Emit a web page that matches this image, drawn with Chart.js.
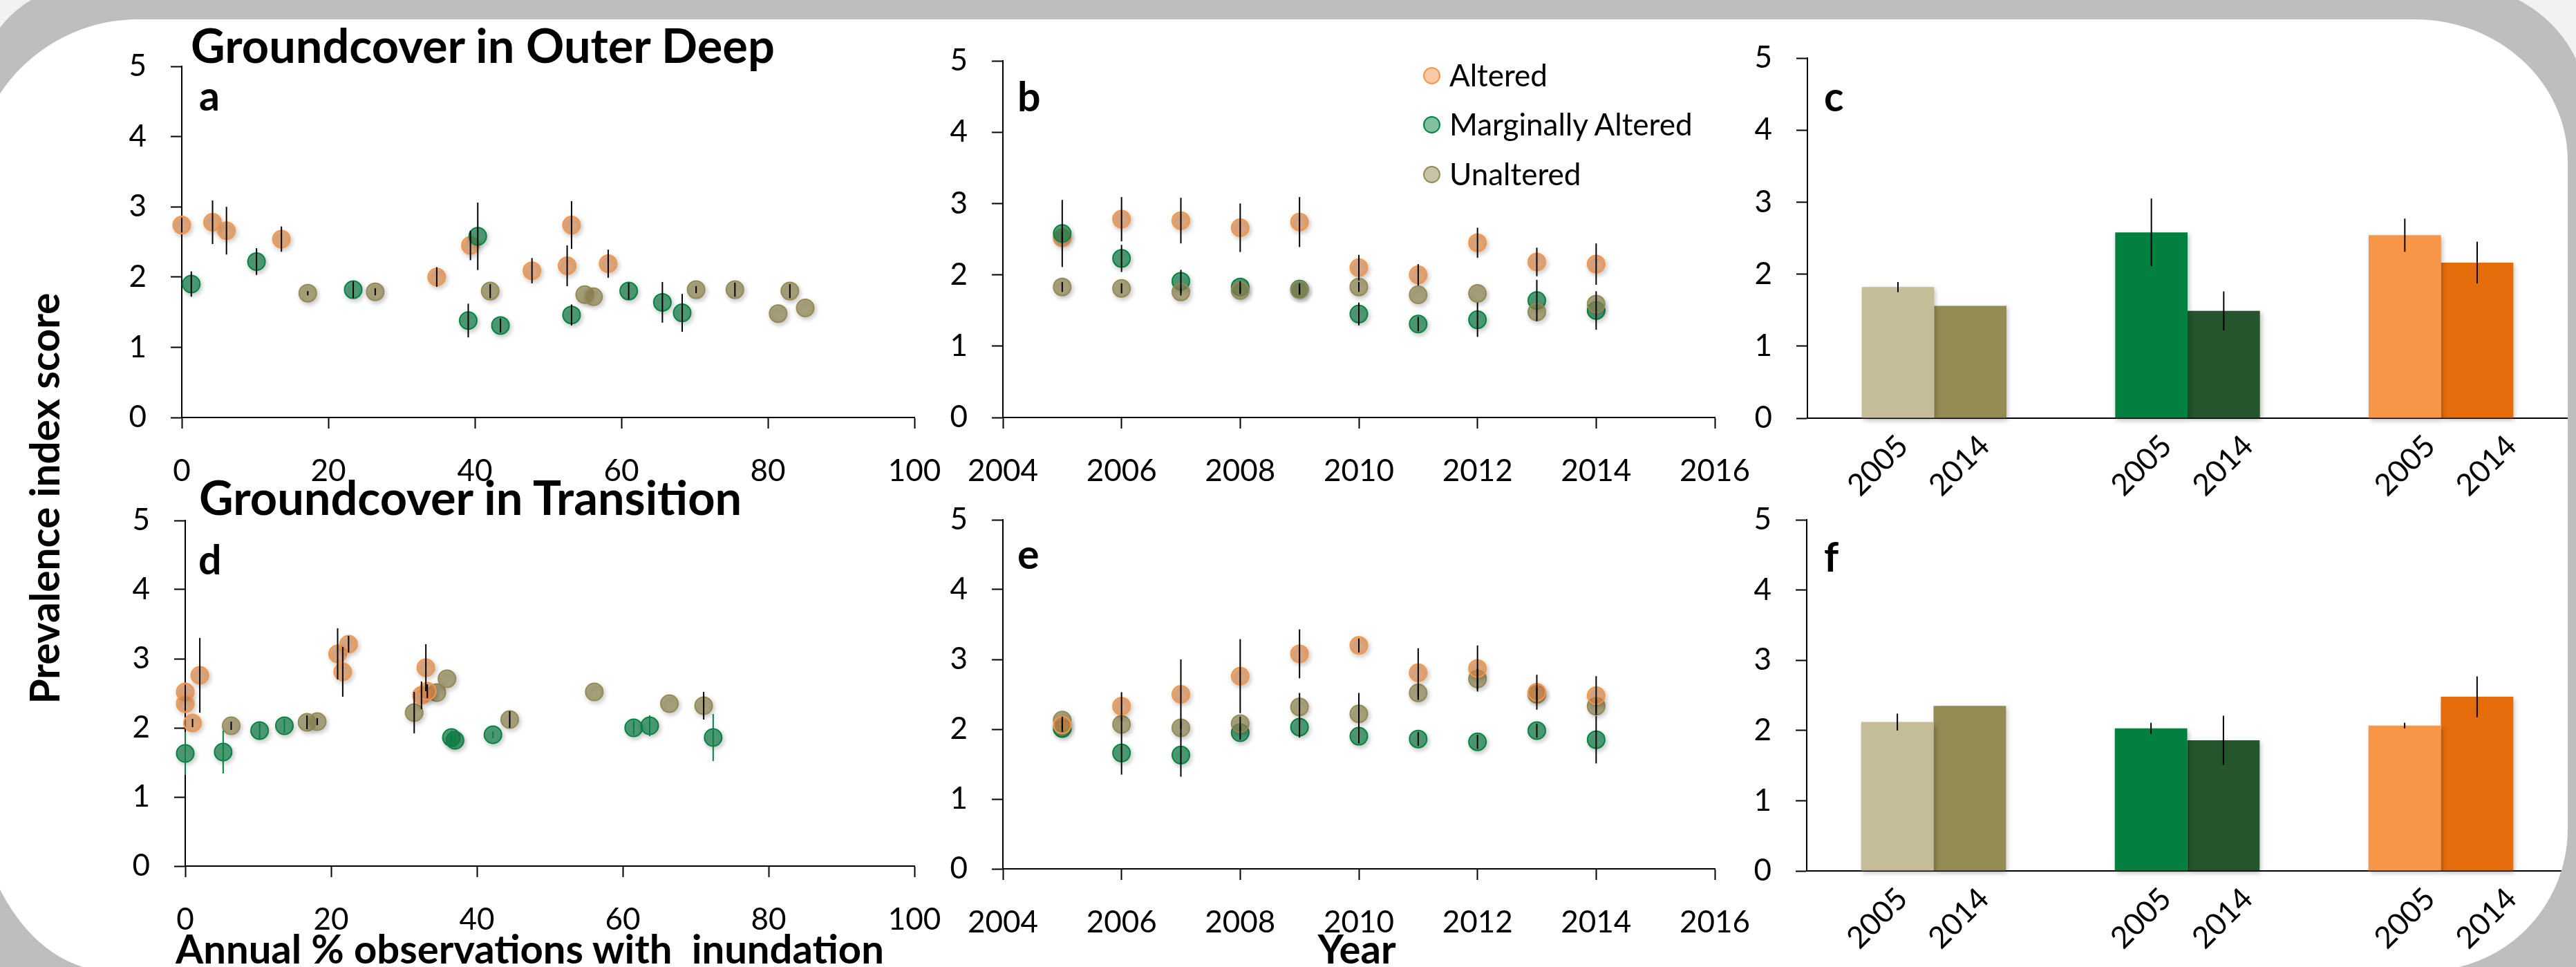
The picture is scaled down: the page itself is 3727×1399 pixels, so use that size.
<!DOCTYPE html>
<html>
<head>
<meta charset="utf-8">
<script src="https://cdn.jsdelivr.net/npm/chart.js@4.4.0/dist/chart.umd.min.js"></script>
<style>
  html, body { margin: 0; padding: 0; }
  body { width: 3727px; height: 1399px; overflow: hidden; position: relative; background: #fff; font-family: Lato, sans-serif; }
  canvas { position: absolute; z-index: 1; }
  .txt { position: absolute; z-index: 2; line-height: 1; white-space: pre; color: #000; }
  .dot { position: absolute; z-index: 2; box-sizing: border-box; border-radius: 50%; border: 2px solid; }
  .mask { position: absolute; pointer-events: none; }
  #frameInner { left: -40px; top: 28px; width: 3755px; height: 1377px; z-index: 5;
    border-radius: 240px 221px 206px 200px / 240px 205px 206px 295px; box-shadow: 0 0 0 4000px #BEBEBE; }
  #frameOuter { left: -30px; top: -20px; width: 3775px; height: 1700px; z-index: 6;
    border-radius: 150px 185px 0 0; box-shadow: 0 0 0 4000px #F2F2F2; }
</style>
</head>
<body>
<div id="frameInner" class="mask"></div>
<div id="frameOuter" class="mask"></div>
<script>
// ---------- data ----------
var seriesNames = ['Altered', 'Marginally Altered', 'Unaltered'];

// a: Outer Deep vs annual % inundation
var deepAltX    = [0, 4.2, 6.1, 13.6, 34.8, 39.4, 47.8, 52.6, 53.2, 58.2];
var deepAltY    = [2.74, 2.78, 2.66, 2.54, 2.00, 2.45, 2.09, 2.16, 2.74, 2.19];
var deepAltErr  = [0.1, 0.31, 0.34, 0.18, 0.14, 0.21, 0.18, 0.29, 0.34, 0.20];
var deepMargX   = [1.3, 10.2, 23.4, 39.1, 40.4, 43.5, 53.2, 61.0, 65.6, 68.3];
var deepMargY   = [1.90, 2.22, 1.82, 1.38, 2.58, 1.31, 1.46, 1.80, 1.64, 1.49];
var deepMargErr = [0.18, 0.19, 0.12, 0.24, 0.48, 0.1, 0.15, 0.12, 0.29, 0.27];
var deepUnX     = [17.2, 26.4, 42.1, 55.0, 56.2, 70.2, 75.5, 81.4, 83.0, 85.1];
var deepUnY     = [1.77, 1.79, 1.80, 1.75, 1.72, 1.82, 1.82, 1.48, 1.80, 1.56];
var deepUnErr   = [0.03, 0.05, 0.1, 0, 0, 0.05, 0.1, 0, 0.1, 0];

// b: Outer Deep by year
var years = [2005, 2006, 2007, 2008, 2009, 2010, 2011, 2012, 2013, 2014];
var deepAltYr     = [2.52, 2.78, 2.76, 2.66, 2.74, 2.10, 2.00, 2.45, 2.18, 2.15];
var deepAltYrErr  = [0.08, 0.31, 0.32, 0.34, 0.35, 0.18, 0.15, 0.21, 0.20, 0.29];
var deepMargYr    = [2.58, 2.23, 1.91, 1.83, 1.80, 1.45, 1.31, 1.37, 1.64, 1.50];
var deepMargYrErr = [0.47, 0.19, 0.16, 0.08, 0.08, 0.16, 0.1, 0.24, 0.29, 0.27];
var deepUnYr      = [1.83, 1.81, 1.76, 1.78, 1.79, 1.83, 1.72, 1.74, 1.48, 1.59];
var deepUnYrErr   = [0.07, 0.07, 0.05, 0.05, 0.05, 0.07, 0, 0, 0, 0];

// c, f: 2005 vs 2014 bars
var barGroups = ['Unaltered', 'Marginally Altered', 'Altered'];
var barYears = ['2005', '2014'];
var deep2005 = [1.82, 2.58, 2.54];  var deep2005Err = [0.07, 0.47, 0.23];
var deep2014 = [1.56, 1.49, 2.16];  var deep2014Err = [0, 0.27, 0.29];
var trans2005 = [2.12, 2.03, 2.07]; var trans2005Err = [0.12, 0.08, 0.04];
var trans2014 = [2.35, 1.86, 2.48]; var trans2014Err = [0, 0.35, 0.29];

// d: Transition vs annual % inundation
var transAltX    = [0, 0, 1.0, 2.0, 20.9, 21.6, 22.4, 33.0, 32.4, 33.2];
var transAltY    = [2.52, 2.35, 2.07, 2.76, 3.07, 2.81, 3.21, 2.87, 2.47, 2.53];
var transAltErr  = [0.1, 0.1, 0.06, 0.54, 0.37, 0.36, 0.12, 0.34, 0.2, 0.1];
var transMargX   = [0, 5.2, 10.2, 13.6, 36.5, 37.0, 42.2, 61.5, 63.7, 72.4];
var transMargY   = [1.63, 1.65, 1.96, 2.03, 1.86, 1.82, 1.90, 2.00, 2.03, 1.86];
var transMargErr = [0.31, 0.31, 0.12, 0.1, 0.1, 0.1, 0.05, 0.1, 0.15, 0.34];
var transUnX     = [6.3, 16.7, 18.1, 31.4, 34.5, 35.9, 44.5, 56.1, 66.4, 71.1];
var transUnY     = [2.03, 2.08, 2.09, 2.22, 2.51, 2.71, 2.12, 2.52, 2.35, 2.32];
var transUnErr   = [0.06, 0.1, 0.05, 0.3, 0, 0, 0.12, 0, 0, 0.2];

// e: Transition by year
var transAltYr     = [2.06, 2.33, 2.50, 2.76, 3.08, 3.20, 2.81, 2.87, 2.53, 2.48];
var transAltYrErr  = [0.05, 0.2, 0.5, 0.53, 0.35, 0.1, 0.35, 0.33, 0.25, 0.28];
var transMargYr    = [2.01, 1.66, 1.63, 1.95, 2.03, 1.90, 1.86, 1.82, 1.98, 1.85];
var transMargYrErr = [0.05, 0.31, 0.31, 0.1, 0.15, 0.1, 0.1, 0.1, 0.1, 0.34];
var transUnYr      = [2.13, 2.07, 2.02, 2.08, 2.32, 2.22, 2.52, 2.72, 2.50, 2.33];
var transUnYrErr   = [0.05, 0.1, 0.1, 0.1, 0.2, 0.3, 0.1, 0.15, 0.1, 0.1];

// ---------- styles ----------
var pointFill = ['rgba(225,140,75,0.65)', 'rgba(20,130,75,0.7)', 'rgba(148,138,84,0.7)'];
var pointLine = ['#F79646', '#00843F', '#948A54'];
var legendFill = ['#FBC9A5', '#80C0A0', '#C9C4A9'];
var bar2005Colors = ['#C4BD97', '#03803F', '#F79646'];
var bar2014Colors = ['#948A54', '#24552D', '#E46C0A'];

var errorBars = {
    id: 'errorBars',
    beforeDatasetsDraw: function (chart) {
        var ctx = chart.ctx;
        ctx.save();
        ctx.shadowColor = 'rgba(0,0,0,0.28)';
        ctx.shadowBlur = 7;
        ctx.shadowOffsetX = 2;
        ctx.shadowOffsetY = 3;
    },
    afterDatasetsDraw: function (chart) {
        var ctx = chart.ctx;
        ctx.restore();
        var yScale = chart.scales.y;
        chart.data.datasets.forEach(function (ds, di) {
            if (!ds.errors) return;
            var meta = chart.getDatasetMeta(di);
            ctx.save();
            ctx.strokeStyle = ds.errorColor || '#000';
            ctx.lineWidth = 2;
            meta.data.forEach(function (el, i) {
                var e = ds.errors[i];
                if (!e) return;
                var v = typeof ds.data[i] === 'number' ? ds.data[i] : ds.data[i].y;
                ctx.beginPath();
                ctx.moveTo(el.x, yScale.getPixelForValue(v + e));
                ctx.lineTo(el.x, yScale.getPixelForValue(v - e));
                ctx.stroke();
            });
            ctx.restore();
        });
    }
};

// year labels under each bar, slightly spread out like the original axis
var barYearLabels = {
    id: 'barYearLabels',
    afterDraw: function (chart) {
        if (chart.config.type !== 'bar') return;
        var ctx = chart.ctx;
        var area = chart.chartArea;
        chart.data.datasets.forEach(function (ds, di) {
            chart.getDatasetMeta(di).data.forEach(function (bar) {
                var x = bar.x + (bar.x - area.right) * 0.04 + 10 + (di === 1 ? 9 : 0);
                ctx.save();
                ctx.translate(x, area.bottom + 69);
                ctx.rotate(-Math.PI / 4);
                ctx.font = '44px Lato';
                ctx.fillStyle = '#000';
                ctx.textAlign = 'center';
                ctx.textBaseline = 'middle';
                ctx.fillText(ds.label, 0, 0);
                ctx.restore();
            });
        });
    }
};

function makeCanvas(box, below) {
    var c = document.createElement('canvas');
    var w = box.r - box.l + 190, h = box.b - box.t + 30 + below;
    c.width = w; c.height = h;
    c.style.width = w + 'px'; c.style.height = h + 'px';
    c.style.left = (box.l - 130) + 'px';
    c.style.top = (box.t - 30) + 'px';
    document.body.appendChild(c);
    return c;
}

function axisLines() {
    return {
        grid: { drawOnChartArea: false, tickLength: 16, tickWidth: 2, tickColor: '#000' },
        border: { color: '#000', width: 2 }
    };
}

function yAxis() {
    var a = axisLines();
    a.min = 0; a.max = 5;
    a.ticks = { stepSize: 1, padding: 35, font: { size: 44 }, color: '#000' };
    a.afterFit = function (s) { s.width = 130; s.paddingTop = 0; s.paddingBottom = 0; };
    return a;
}

function xLinear(min, max, step) {
    var a = axisLines();
    a.type = 'linear'; a.min = min; a.max = max;
    a.ticks = { stepSize: step, padding: 35, font: { size: 44 }, color: '#000', maxRotation: 0, autoSkip: false,
        callback: function (v) { return String(v); } };
    a.afterFit = function (s) { s.height = 100; s.paddingLeft = 0; s.paddingRight = 0; };
    return a;
}

function points(xs, ys) {
    return ys.map(function (v, i) { return { x: xs[i], y: v }; });
}

function scatterPanel(box, xScale, series, orders, errColors) {
    var c = makeCanvas(box, 100);
    new Chart(c, {
        type: 'scatter',
        data: {
            datasets: series.map(function (s, i) {
                return {
                    label: seriesNames[i],
                    data: s.data,
                    errors: s.err,
                    errorColor: errColors ? errColors[i] : '#000',
                    order: orders[i],
                    clip: false,
                    pointRadius: 12.5,
                    pointHoverRadius: 12.5,
                    pointBorderWidth: 2,
                    pointBackgroundColor: pointFill[i],
                    pointBorderColor: pointLine[i]
                };
            })
        },
        options: {
            responsive: false, animation: false, devicePixelRatio: 1,
            layout: { padding: { left: 0, top: 30, right: 60, bottom: 0 } },
            plugins: { legend: { display: false }, tooltip: { enabled: false } },
            scales: { x: xScale, y: yAxis() }
        },
        plugins: [errorBars]
    });
}

function barPanel(box, v2005, e2005, v2014, e2014) {
    var c = makeCanvas(box, 130);
    var x = axisLines();
    x.type = 'category';
    x.z = 1;
    x.grid = { drawOnChartArea: false, drawTicks: false };
    x.ticks = { display: false };
    x.afterFit = function (s) { s.height = 130; s.paddingLeft = 0; s.paddingRight = 0; };
    new Chart(c, {
        type: 'bar',
        data: {
            labels: barGroups,
            datasets: [
                { label: barYears[0], data: v2005, errors: e2005, backgroundColor: bar2005Colors,
                  categoryPercentage: 0.571, barPercentage: 1, clip: false },
                { label: barYears[1], data: v2014, errors: e2014, backgroundColor: bar2014Colors,
                  categoryPercentage: 0.571, barPercentage: 1, clip: false }
            ]
        },
        options: {
            responsive: false, animation: false, devicePixelRatio: 1,
            layout: { padding: { left: 0, top: 30, right: 60, bottom: 0 } },
            plugins: { legend: { display: false }, tooltip: { enabled: false } },
            scales: { x: x, y: yAxis() }
        },
        plugins: [errorBars, barYearLabels]
    });
}

function baselineOffset(weight, size) {
    var ctx = document.createElement('canvas').getContext('2d');
    ctx.font = weight + ' ' + size + 'px Lato';
    var m = ctx.measureText('Hg');
    if (m.fontBoundingBoxAscent === undefined) return size * 0.887;
    return (size - (m.fontBoundingBoxAscent + m.fontBoundingBoxDescent)) / 2 + m.fontBoundingBoxAscent;
}

function addText(str, x, baseline, size, weight, center) {
    var d = document.createElement('div');
    d.className = 'txt';
    d.textContent = str;
    d.style.fontSize = size + 'px';
    d.style.fontWeight = weight;
    d.style.left = x + 'px';
    d.style.top = (baseline - baselineOffset(weight, size)) + 'px';
    if (center) d.style.transform = 'translateX(-50%)';
    document.body.appendChild(d);
    return d;
}

function draw() {
    Chart.defaults.font.family = 'Lato';
    Chart.defaults.color = '#000';

    scatterPanel({ l: 263, t: 96, r: 1323, b: 604 }, xLinear(0, 100, 20), [
        { data: points(deepAltX, deepAltY), err: deepAltErr },
        { data: points(deepMargX, deepMargY), err: deepMargErr },
        { data: points(deepUnX, deepUnY), err: deepUnErr }
    ], [2, 1, 0]);

    scatterPanel({ l: 1451, t: 88, r: 2481, b: 604 }, xLinear(2004, 2016, 2), [
        { data: points(years, deepAltYr), err: deepAltYrErr },
        { data: points(years, deepMargYr), err: deepMargYrErr },
        { data: points(years, deepUnYr), err: deepUnYrErr }
    ], [2, 1, 0]);

    barPanel({ l: 2615, t: 84, r: 3715, b: 605 }, deep2005, deep2005Err, deep2014, deep2014Err);

    scatterPanel({ l: 268, t: 753, r: 1323, b: 1253 }, xLinear(0, 100, 20), [
        { data: points(transAltX, transAltY), err: transAltErr },
        { data: points(transMargX, transMargY), err: transMargErr },
        { data: points(transUnX, transUnY), err: transUnErr }
    ], [0, 2, 1], ['#000', '#00843F', '#000']);

    scatterPanel({ l: 1451, t: 752, r: 2481, b: 1257 }, xLinear(2004, 2016, 2), [
        { data: points(years, transAltYr), err: transAltYrErr },
        { data: points(years, transMargYr), err: transMargYrErr },
        { data: points(years, transUnYr), err: transUnYrErr }
    ], [0, 2, 1]);

    barPanel({ l: 2614, t: 752, r: 3715, b: 1260 }, trans2005, trans2005Err, trans2014, trans2014Err);

    // titles and labels
    addText('Groundcover in Outer Deep', 276, 92, 68.5, '700');
    addText('Groundcover in Transition', 288, 746, 68.5, '700');
    [['a', 288, 160], ['b', 1472, 161], ['c', 2639, 161],
     ['d', 287, 831], ['e', 1472, 823], ['f', 2639, 827]].forEach(function (p) {
        addText(p[0], p[1], p[2], 59, '700');
    });
    addText('Annual % observations with  inundation', 254, 1394, 58, '700');
    addText('Year', 1963, 1394, 58, '700', true);

    var ySize = 58.5;
    var yt = document.createElement('div');
    yt.className = 'txt';
    yt.textContent = 'Prevalence index score';
    yt.style.fontSize = ySize + 'px';
    yt.style.fontWeight = '700';
    var cx = 65 - (baselineOffset('700', ySize) - 0.86 * ySize);
    yt.style.left = cx + 'px';
    yt.style.top = '721px';
    yt.style.transform = 'translate(-50%, -50%) rotate(-90deg)';
    document.body.appendChild(yt);

    // legend
    var legendY = [109, 180, 252];
    seriesNames.forEach(function (name, i) {
        var d = document.createElement('div');
        d.className = 'dot';
        d.style.width = '25px'; d.style.height = '25px';
        d.style.left = (2071 - 12.5) + 'px';
        d.style.top = (legendY[i] - 12.5) + 'px';
        d.style.background = legendFill[i];
        d.style.borderColor = pointLine[i];
        document.body.appendChild(d);
        addText(name, 2097, legendY[i] + 16, 44, '400');
    });
}

document.addEventListener('DOMContentLoaded', function () {
    var loads = [];
    if (document.fonts && document.fonts.load) {
        loads.push(document.fonts.load('44px Lato'));
        loads.push(document.fonts.load('bold 65px Lato'));
    }
    Promise.all(loads).then(draw, draw);
});
</script>
</body>
</html>
